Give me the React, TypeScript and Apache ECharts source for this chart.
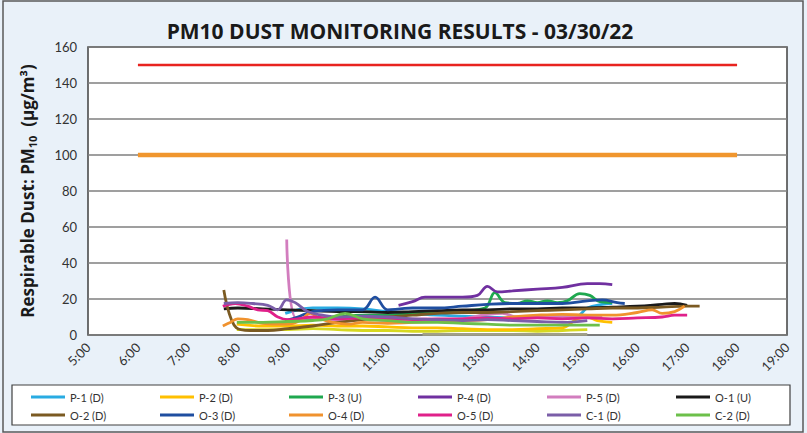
import React, { useEffect, useRef } from "react";
import * as echarts from "echarts";

const TITLE = "PM10 DUST MONITORING RESULTS - 03/30/22";
const X_MIN = 5;
const X_MAX = 19;
const Y_TICKS = [0, 20, 40, 60, 80, 100, 120, 140, 160];

const seriesNames = [
  "P-1 (D)", "P-2 (D)", "P-3 (U)", "P-4 (D)", "P-5 (D)", "O-1 (U)",
  "O-2 (D)", "O-3 (D)", "O-4 (D)", "O-5 (D)", "C-1 (D)", "C-2 (D)",
];
const seriesColors = [
  "#29ABE2", "#FFC000", "#1FA84F", "#7030A0", "#D27DBE", "#1A1A1A",
  "#7B5A22", "#1F4EA0", "#F0922E", "#E0208A", "#7B5EA8", "#6CC04A",
];

// [hour, value]
const P1 = [[8.95,12],[9.2,14],[9.5,15],[10,15],[10.5,14.5],[11,13],[11.5,12],[12,11],[12.5,10.5],[13,10],[13.5,9.5],[14,10],[14.5,10],[14.8,10.5],[15,15],[15.3,17],[15.5,17.5]];
const P2 = [[7.98,6],[8.5,5],[9,5],[9.5,5.5],[10,5],[10.5,5],[11,4.5],[11.5,4],[12,4],[12.5,3.5],[13,3],[13.5,3],[14,3.5],[14.5,4],[14.8,9],[15,10],[15.2,8],[15.5,7]];
const P3 = [[8.95,8],[9.5,9],[10,10],[10.5,11],[11,11],[11.5,12],[12,13],[12.5,13.5],[12.95,15],[13.15,23.5],[13.35,18],[13.6,17.5],[13.8,19],[14,18],[14.2,19],[14.4,18],[14.6,19],[14.85,23],[15.05,22],[15.25,18.5],[15.5,18]];
const P4 = [[11.22,16.5],[11.5,18.5],[11.75,21],[12,21],[12.5,21],[12.8,22],[13,27],[13.2,24],[13.5,24.5],[14,25.5],[14.5,26.5],[15,28.5],[15.25,28.5],[15.5,28]];
const P5 = [[8.98,53],[9.18,9],[9.5,9.5],[10,8],[10.5,9],[11,8],[11.5,9],[12,8.5],[12.5,9],[13,11.5],[13.3,12],[13.6,10],[14,10.5],[14.5,10],[15,10],[15.3,10]];
const O1 = [[7.72,14.5],[8,15],[8.5,14.5],[9,14],[9.5,13.5],[10,13],[10.5,13],[11,12.5],[11.5,13],[12,13.5],[12.5,14],[13,14],[13.5,14.5],[14,14.5],[14.5,15],[15,15],[15.5,15.5],[16,16],[16.5,17],[16.75,17.5],[17,16.5]];
const O2 = [[7.72,25],[7.97,4],[8.25,2.5],[8.6,2.5],[9,3.5],[9.5,5],[10,7],[10.5,8.5],[11,10],[11.5,11],[12,12],[12.5,12.5],[13,12.5],[13.5,13],[14,13.5],[14.5,14],[15,14.5],[15.5,15],[16,15],[16.5,15.5],[17,16],[17.25,16]];
const O3 = [[8.95,8],[9.2,10],[9.5,13],[10,14],[10.5,14],[10.75,21],[11,14],[11.25,14.5],[11.5,15],[12,15],[12.5,16],[13,17],[13.5,17.5],[14,17.5],[14.5,17.5],[15,19],[15.3,19.5],[15.6,18],[15.75,17.5]];
const O4 = [[7.7,5],[7.85,7],[8,9],[8.2,8.5],[8.5,6.5],[9,6],[9.25,8],[9.45,12],[9.65,9],[9.9,7],[10.2,6],[10.5,7],[11,6.5],[11.5,7],[12,7.5],[12.5,8],[13,8.5],[13.5,10],[14,11],[14.5,11.5],[15,11],[15.5,11],[16,12.5],[16.3,14],[16.5,12],[16.75,13],[16.95,16]];
const O5 = [[7.7,16],[7.95,17.5],[8.2,16],[8.4,14],[8.6,13.5],[8.8,10],[9,8.5],[9.2,9],[9.5,10],[10,9],[10.5,9.5],[11,9],[11.5,8.5],[12,9],[12.5,9],[13,9.5],[13.5,9],[14,9.5],[14.5,9],[15,9.5],[15.5,9],[16,9.5],[16.5,10],[16.75,11],[17,11]];
const C1 = [[7.72,17.5],[8,18],[8.3,17.5],[8.6,16.5],[8.8,14],[8.98,19.5],[9.15,18],[9.4,13],[9.7,11],[10,10],[10.5,10.5],[11,10],[11.5,9],[12,8.5],[12.5,8],[13,8.5],[13.5,8],[14,7.5],[14.5,7],[15,8]];
const C2 = [[7.98,7],[8.5,7],[9,7.5],[9.5,8],[9.8,9],[10.15,12],[10.5,9],[11,8],[11.5,7],[12,7],[12.5,6.5],[13,6],[13.5,5.5],[14,5.5],[14.5,5.5],[15,5.5],[15.25,5.5]];
const LIME = [[7.98,3],[8.5,3],[9,3],[9.5,3.5],[10,3],[10.5,2.5],[11,2.5],[11.5,2],[12,2],[12.5,2.5],[13,2.5],[13.5,2.5],[14,2],[14.5,2.5],[15,3]];
const GRAY = [[11.7,0.3],[15,0.3]];

const seriesData = [P1, P2, P3, P4, P5, O1, O2, O3, O4, O5, C1, C2];

const LIMIT_150 = [[6, 150], [18, 150]];
const LIMIT_100 = [[6, 100], [18, 100]];

const FONT = "Lato, 'Open Sans', sans-serif";
const BOLD_FONT = "'Open Sans', Lato, sans-serif";

export default function App() {
  const ref = useRef<HTMLDivElement>(null);
  useEffect(() => {
    document.body.style.margin = "0";
    const chart = echarts.init(ref.current!, undefined, { renderer: "svg" });
    const dataSeries = seriesNames.map((name, i) => ({
      name,
      type: "line",
      data: seriesData[i],
      smooth: 0.4,
      showSymbol: false,
      symbol: "none",
      lineStyle: { color: seriesColors[i], width: 2.8 },
      itemStyle: { color: seriesColors[i] },
      z: 3,
    }));
    chart.setOption({
      animation: false,
      backgroundColor: "#E9F1F9",
      textStyle: { fontFamily: FONT },
      title: {
        text: TITLE,
        left: 395,
        textAlign: "center",
        top: 15,
        textStyle: { fontFamily: BOLD_FONT, fontWeight: "bold", fontSize: 21, color: "#1a1a1a" },
      },
      graphic: [
        {
          type: "rect",
          z: 0,
          shape: { x: 3, y: 1, width: 800, height: 431 },
          style: { fill: "none", stroke: "#595959", lineWidth: 1.5 },
        },
        {
          type: "rect",
          z: 0,
          shape: { x: 12, y: 385, width: 778, height: 40 },
          style: { fill: "#ffffff", stroke: "#404040", lineWidth: 1.2 },
        },
      ],
      grid: {
        left: 88,
        right: 20,
        top: 47,
        bottom: 98,
        show: true,
        backgroundColor: "#ffffff",
        borderColor: "#404040",
        borderWidth: 1.5,
      },
      legend: {
        data: seriesNames,
        left: 26,
        top: 383,
        width: 780,
        itemGap: 0,
        icon: "rect",
        itemWidth: 34,
        itemHeight: 3,
        z: 10,
        textStyle: { fontFamily: FONT, fontSize: 11, color: "#333", width: 90, lineHeight: 18 },
      },
      xAxis: {
        type: "value",
        min: X_MIN,
        max: X_MAX,
        interval: 1,
        axisLine: { show: false },
        axisTick: { show: false },
        splitLine: { show: false },
        axisLabel: {
          rotate: 45,
          fontSize: 13,
          color: "#333",
          margin: 10,
          fontFamily: FONT,
          formatter: (v: number) => `${v}:00`,
        },
      },
      yAxis: {
        type: "value",
        min: Y_TICKS[0],
        max: Y_TICKS[Y_TICKS.length - 1],
        interval: 20,
        axisLine: { show: false },
        axisTick: { show: false },
        splitLine: { lineStyle: { color: "#7F7F7F", width: 1.5 } },
        axisLabel: { fontSize: 13, color: "#333", margin: 11, fontFamily: FONT },
        name: "{a|Respirable Dust: PM}{s|10}{a|  (µg/m³)}",
        nameLocation: "middle",
        nameRotate: 90,
        nameGap: 50,
        nameTextStyle: {
          rich: {
            a: { fontFamily: BOLD_FONT, fontWeight: "bold", fontSize: 17, color: "#1a1a1a", lineHeight: 22, verticalAlign: "middle" },
            s: { fontFamily: BOLD_FONT, fontWeight: "bold", fontSize: 11, color: "#1a1a1a", lineHeight: 22, verticalAlign: "bottom" },
          },
        },
      },
      series: [
        {
          name: "limit150",
          type: "line",
          data: LIMIT_150,
          showSymbol: false,
          symbol: "none",
          lineStyle: { color: "#E8231F", width: 2.5 },
          z: 2,
        },
        {
          name: "limit100",
          type: "line",
          data: LIMIT_100,
          showSymbol: false,
          symbol: "none",
          lineStyle: { color: "#F0962E", width: 4.5 },
          z: 2,
        },
        {
          name: "bg1",
          type: "line",
          data: LIME,
          smooth: 0.4,
          symbol: "none",
          lineStyle: { color: "#D6D820", width: 2.8 },
          z: 2,
        },
        {
          name: "bg2",
          type: "line",
          data: GRAY,
          symbol: "none",
          lineStyle: { color: "#A0A088", width: 2.8 },
          z: 2,
        },
        ...dataSeries,
      ],
    });
    return () => chart.dispose();
  }, []);
  return <div ref={ref} style={{ width: 807, height: 433 }} />;
}
